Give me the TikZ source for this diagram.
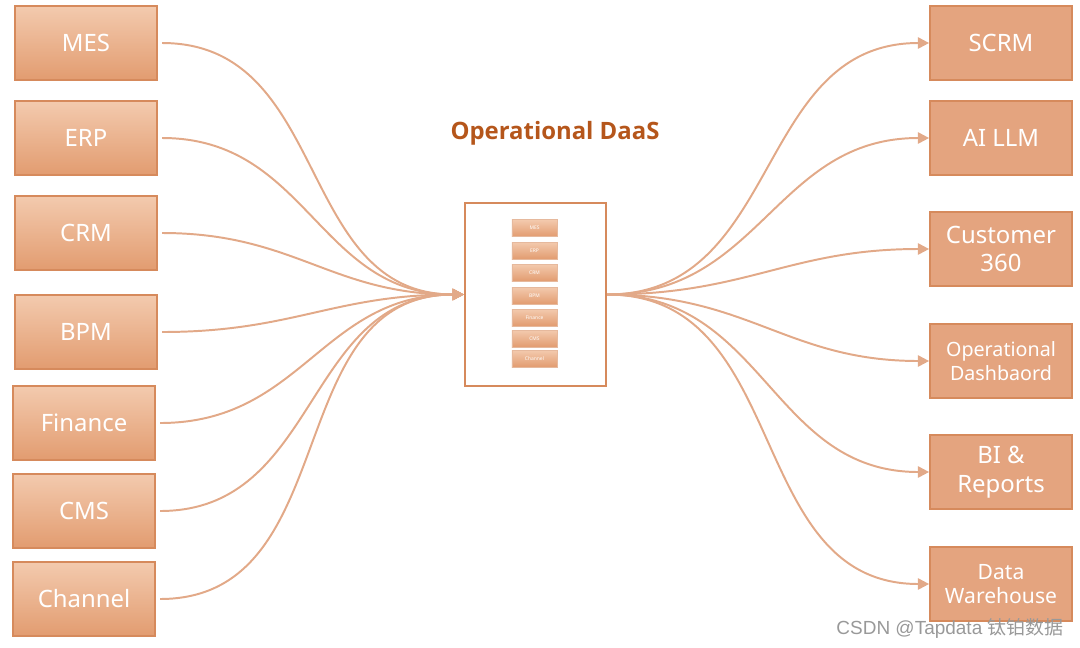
\documentclass[tikz,border=0pt]{standalone}
\usepackage{fontspec}
\setmainfont{Noto Sans}
\newfontfamily\titlefont{Open Sans}
\newfontfamily\cjk{Noto Sans CJK SC}
\newfontfamily\wmfont{Liberation Sans}
\usetikzlibrary{arrows.meta}
\definecolor{boxtop}{HTML}{F3CAAE}
\definecolor{boxbot}{HTML}{E29C70}
\definecolor{boxflat}{HTML}{E4A47F}
\definecolor{boxline}{HTML}{D68A5C}
\definecolor{wire}{HTML}{E2A988}
\definecolor{titlecol}{HTML}{B5561B}
\tikzset{
  srcbox/.style={draw=boxline,line width=1.2pt,top color=boxtop,bottom color=boxbot,
    minimum width=3.55cm,minimum height=1.85cm,text=white,
    font=\fontsize{17}{20}\selectfont},
  dstbox/.style={draw=boxline,line width=1.2pt,fill=boxflat,
    minimum width=3.55cm,minimum height=1.85cm,text=white,align=center},
  minibox/.style={draw=boxline!60,line width=0.3pt,top color=boxtop,bottom color=boxbot,
    minimum width=1.125cm,minimum height=0.425cm,inner sep=0pt,text=white,
    font=\fontsize{3.5}{4}\selectfont},
  wire/.style={draw=wire,line width=1.4pt,looseness=1.1,
    -{Triangle[length=8pt,width=8pt]}}
}
\begin{document}
\begin{tikzpicture}[x=0.025cm,y=-0.025cm]
            \useasboundingbox (0,0) rectangle (1080,647);
            % sources
            \foreach \n/\x/\y/\t in {mes/86/43/MES,erp/86/138/ERP,crm/86/233/CRM,
                bpm/86/332/BPM,fin/84/423/Finance,cms/84/511/CMS,chl/84/599/Channel}
                {\node[srcbox] (\n) at (\x,\y) {\t};}
            % targets
            \foreach \n/\y/\s/\b/\t in {scrm/43/17/20/SCRM,llm/138/17/20/AI LLM,
                cust/249/17/20/{Customer\\360},dash/361/14/17/{Operational\\Dashbaord},
                bi/472/17/21/{BI \&\\Reports},dwh/584/15/17/{Data\\Warehouse}}
                {\node[dstbox,font=\fontsize{\s}{\b}\selectfont] (\n) at (1001,\y) {\t};}
            % hub
            \node[draw=boxline,line width=1.5pt,fill=white,
                minimum width=3.525cm,minimum height=4.575cm] (daas) at (535.5,294.5) {};
            \node[text=titlecol,font=\titlefont\fontsize{17}{20}\selectfont\bfseries]
                (title) at (555,133) {Operational DaaS};
            \foreach \n/\y/\t in {hmes/228/MES,herp/250.5/ERP,hcrm/272.5/CRM,
                hbpm/295.5/BPM,hfin/317.5/Finance,hcms/338.5/CMS,hchl/358.5/Channel}
                {\node[minibox] (\n) at (534.5,\y) {\t};}
            % wires in
            \foreach \n in {mes,erp,crm,bpm,fin,cms,chl}
                {\draw[wire] ([xshift=3pt]\n.east) to[out=0,in=180] (daas.west);}
            % wires out
            \foreach \n in {scrm,llm,cust,dash,bi,dwh}
                {\draw[wire] (daas.east) to[out=0,in=180] (\n.west);}
            \node[text=black!40,font=\wmfont\fontsize{13.5}{16}\selectfont,inner sep=0pt]
                (wm) at (950,628) {CSDN @Tapdata {\cjk 钛铂数据}};
\end{tikzpicture}
\end{document}
